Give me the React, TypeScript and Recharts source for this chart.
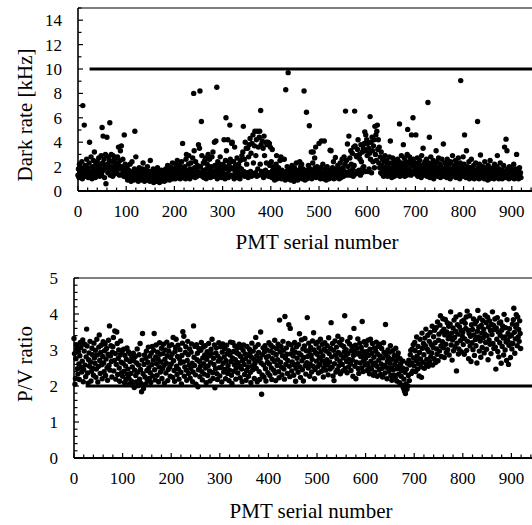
import React from 'react';
import { ScatterChart, Scatter, XAxis, YAxis, ReferenceLine } from 'recharts';

// ---- Dark rate [kHz], PMT serial 0..919 (blocks of 100) ----
const dark0 = [
  1.3, 1.8, 1.1, 2.2, 1.5, 1.2, 1.9, 1.4, 2.4, 1.0, 7.0, 1.6, 1.3, 5.4, 1.8, 2.1, 1.2, 1.5, 2.6, 1.4,
  1.9, 1.1, 1.7, 2.3, 4.0, 1.5, 1.2, 2.8, 1.6, 1.0, 2.0, 1.4, 2.5, 1.3, 3.2, 1.8, 1.1, 2.2, 1.7, 1.5,
  2.4, 1.3, 1.9, 2.7, 1.6, 1.2, 2.1, 1.8, 2.9, 1.4, 5.2, 2.3, 4.5, 1.7, 2.6, 1.1, 2.0, 3.0, 0.6, 1.9,
  4.4, 2.2, 1.5, 2.8, 1.8, 2.5, 5.6, 1.3, 2.0, 3.0, 1.7, 2.4, 1.2, 2.9, 1.9, 2.6, 1.4, 2.2, 2.7, 1.6,
  2.3, 1.5, 2.8, 1.9, 3.6, 2.1, 1.3, 2.5, 3.3, 1.8, 3.7, 2.0, 1.4, 2.6, 1.7, 1.2, 4.6, 1.9, 2.2, 1.5,
];
const dark1 = [
  1.6, 1.1, 2.0, 0.9, 1.4, 1.7, 1.0, 1.3, 2.2, 1.5, 0.8, 1.2, 2.4, 1.0, 1.6, 1.3, 0.9, 1.8, 4.9, 1.1,
  2.8, 1.4, 1.0, 1.7, 1.2, 0.8, 1.5, 1.9, 1.1, 1.3, 0.9, 1.6, 1.2, 1.0, 1.8, 2.3, 1.1, 1.4, 0.8, 1.5,
  1.2, 1.7, 0.9, 1.3, 2.0, 1.0, 1.4, 1.1, 1.6, 0.8, 2.5, 1.2, 0.9, 1.5, 1.3, 1.0, 1.8, 0.7, 1.2, 1.4,
  1.0, 1.6, 0.8, 1.3, 1.1, 1.9, 0.9, 1.2, 1.5, 0.7, 1.0, 1.4, 0.8, 1.7, 1.1, 0.9, 1.3, 1.0, 1.6, 0.8,
  1.4, 1.1, 1.8, 0.9, 1.5, 1.2, 2.1, 1.0, 1.3, 1.7, 0.9, 1.6, 1.2, 1.9, 1.1, 1.4, 2.3, 1.0, 1.5, 1.8,
];
const dark2 = [
  1.3, 1.8, 1.0, 2.2, 1.5, 1.1, 2.5, 1.4, 1.9, 1.2, 1.6, 2.1, 1.0, 1.7, 1.3, 2.4, 1.1, 3.9, 1.5, 1.8,
  1.2, 2.0, 1.4, 1.0, 2.6, 3.0, 1.3, 1.7, 1.1, 2.2, 2.9, 1.5, 1.0, 1.8, 2.3, 1.3, 1.6, 1.2, 2.7, 1.4,
  8.0, 3.3, 1.9, 1.1, 2.4, 1.5, 1.8, 1.2, 2.1, 1.6, 3.8, 1.3, 3.5, 8.2, 2.0, 1.4, 5.7, 2.9, 1.2, 1.7,
  2.3, 1.1, 1.6, 2.5, 1.3, 2.7, 1.0, 1.8, 2.2, 1.4, 3.0, 1.2, 1.9, 2.6, 1.5, 1.1, 2.0, 1.7, 2.8, 1.3,
  3.2, 1.6, 1.2, 4.0, 2.1, 1.4, 4.1, 1.8, 8.5, 1.0, 2.4, 1.5, 1.9, 1.2, 2.2, 2.8, 1.3, 1.7, 1.1, 2.0,
];
const dark3 = [
  1.5, 2.2, 1.2, 4.2, 1.8, 1.0, 2.5, 6.0, 3.3, 1.4, 2.0, 4.2, 1.1, 1.7, 2.3, 5.4, 2.6, 1.3, 1.9, 3.9,
  4.0, 1.2, 1.8, 2.4, 1.0, 3.6, 1.5, 2.1, 1.3, 1.7, 2.7, 1.1, 1.6, 2.2, 1.4, 1.9, 1.0, 2.5, 1.3, 1.8,
  2.9, 1.4, 3.2, 5.3, 1.6, 2.6, 1.2, 4.0, 1.3, 3.5, 2.2, 1.5, 3.5, 1.1, 2.8, 3.8, 1.4, 4.3, 1.6, 3.1,
  1.2, 3.9, 1.4, 4.6, 2.3, 1.3, 3.7, 4.9, 1.5, 2.9, 4.2, 1.2, 4.9, 1.8, 3.6, 1.3, 4.4, 4.9, 2.2, 6.6,
  3.8, 1.6, 4.1, 1.3, 3.5, 1.1, 4.5, 2.9, 1.4, 1.7, 4.0, 2.3, 3.8, 1.4, 4.0, 1.2, 1.5, 3.9, 2.1, 3.6,
];
const dark4 = [
  1.5, 2.4, 1.1, 3.4, 1.7, 1.2, 2.0, 1.4, 0.9, 1.8, 1.3, 2.2, 2.9, 1.0, 1.6, 1.2, 1.9, 1.4, 1.1, 2.5,
  1.3, 2.8, 1.0, 1.7, 2.6, 1.2, 1.5, 1.1, 2.6, 1.4, 0.9, 8.3, 1.6, 1.2, 2.0, 1.0, 9.7, 1.3, 1.8, 1.1,
  1.4, 0.9, 1.7, 1.2, 2.1, 1.0, 1.5, 1.3, 0.8, 1.9, 1.1, 1.6, 1.2, 2.3, 1.0, 1.4, 0.9, 1.7, 1.3, 1.1,
  2.4, 1.2, 2.0, 1.5, 2.2, 1.0, 1.3, 1.8, 1.1, 8.2, 1.4, 0.9, 1.6, 1.2, 6.45, 1.0, 1.7, 1.3, 2.1, 1.5,
  5.35, 1.1, 1.8, 1.3, 3.2, 1.0, 1.6, 2.3, 3.2, 1.2, 1.5, 2.7, 1.9, 3.6, 1.1, 1.4, 2.0, 1.2, 1.7, 1.3,
];
const dark5 = [
  3.9, 1.2, 1.6, 1.0, 1.9, 4.1, 1.3, 1.1, 2.2, 1.5, 1.0, 4.1, 1.4, 1.8, 1.2, 0.9, 1.6, 2.0, 1.1, 1.3,
  1.7, 1.0, 1.4, 3.35, 1.2, 3.3, 1.5, 1.1, 1.9, 1.3, 2.4, 1.0, 1.6, 1.2, 2.75, 1.4, 1.1, 1.8, 1.3, 2.1,
  1.2, 1.5, 1.0, 1.8, 2.3, 1.3, 1.1, 1.7, 2.6, 1.4, 1.9, 1.2, 2.8, 1.6, 2.2, 6.55, 1.5, 2.5, 1.3, 3.85,
  2.0, 1.4, 4.5, 1.6, 2.7, 1.3, 3.3, 2.2, 1.5, 3.1, 1.8, 1.2, 3.6, 2.1, 6.55, 3.7, 1.4, 2.9, 2.8, 1.6,
  3.4, 4.2, 1.5, 1.7, 3.0, 2.6, 1.3, 3.8, 2.4, 1.5, 3.2, 1.9, 3.5, 2.0, 3.9, 4.85, 1.6, 4.6, 3.3, 4.2,
];
const dark6 = [
  2.9, 3.9, 1.6, 3.5, 1.8, 3.1, 6.1, 2.6, 4.0, 1.5, 4.4, 3.3, 2.4, 3.7, 4.2, 1.9, 5.3, 3.0, 4.6, 2.5,
  4.9, 5.4, 3.4, 4.2, 2.3, 3.6, 1.9, 2.8, 1.5, 3.2, 2.1, 1.4, 2.6, 1.8, 1.2, 2.4, 1.6, 2.9, 1.3, 2.0,
  1.7, 2.5, 1.2, 2.2, 1.5, 1.9, 2.8, 1.3, 4.1, 1.8, 2.3, 1.1, 1.6, 2.7, 1.4, 2.0, 1.2, 2.5, 1.7, 1.5,
  2.2, 1.3, 1.9, 2.6, 1.4, 1.8, 2.4, 5.5, 1.2, 2.1, 1.6, 2.9, 1.3, 1.9, 2.3, 3.8, 1.5, 2.7, 1.2, 2.0,
  1.6, 2.4, 1.3, 3.0, 5.05, 1.8, 2.2, 1.4, 2.8, 1.7, 2.5, 1.3, 4.6, 2.1, 1.6, 6.0, 2.6, 1.5, 2.3, 1.9,
];
const dark7 = [
  1.4, 4.6, 2.0, 1.6, 2.7, 1.2, 2.3, 1.8, 1.3, 2.5, 1.7, 2.1, 1.1, 2.9, 1.5, 1.9, 3.5, 1.3, 2.2, 1.6,
  2.4, 1.4, 1.8, 2.6, 1.2, 2.0, 7.25, 1.5, 2.3, 4.4, 1.1, 1.7, 2.8, 1.3, 1.9, 2.2, 1.4, 2.5, 1.0, 1.6,
  2.1, 1.3, 1.8, 3.3, 1.5, 2.4, 1.2, 1.9, 2.7, 1.4, 1.7, 2.2, 1.1, 2.0, 1.6, 2.6, 1.3, 1.8, 3.85, 1.5,
  1.2, 2.3, 1.7, 1.4, 2.0, 1.1, 2.6, 1.5, 1.9, 1.3, 2.2, 1.6, 1.0, 2.4, 1.4, 1.8, 1.2, 2.9, 1.5, 1.7,
  2.1, 1.3, 1.6, 2.5, 1.1, 1.9, 1.4, 2.2, 1.2, 2.7, 1.5, 1.8, 1.0, 2.3, 9.05, 1.4, 2.0, 1.6, 1.2, 2.8,
];
const dark8 = [
  1.5, 2.2, 4.6, 1.3, 1.8, 1.1, 3.3, 1.6, 2.0, 1.2, 1.7, 2.4, 1.0, 1.4, 1.9, 1.2, 2.6, 1.5, 1.1, 1.8,
  1.3, 2.1, 1.0, 1.6, 1.4, 2.3, 1.1, 1.7, 1.2, 5.7, 1.5, 1.9, 1.0, 2.2, 1.3, 2.95, 1.6, 1.1, 1.8, 1.4,
  2.0, 1.2, 1.5, 1.0, 2.4, 1.3, 1.7, 1.1, 1.9, 1.4, 0.9, 2.1, 1.2, 1.6, 1.0, 2.5, 1.3, 1.8, 1.1, 1.5,
  1.2, 1.9, 1.4, 1.0, 2.2, 1.6, 1.1, 1.7, 1.3, 2.0, 2.9, 1.2, 1.5, 1.0, 1.8, 1.3, 2.3, 1.1, 1.6, 1.4,
  1.0, 1.7, 1.3, 2.1, 1.2, 3.6, 1.5, 1.1, 4.25, 1.4, 3.3, 1.8, 1.2, 1.6, 1.0, 2.0, 1.3, 1.5, 1.1, 1.9,
];
const dark9 = [
  1.4, 1.1, 1.7, 1.2, 2.2, 1.0, 1.5, 1.3, 1.8, 1.1, 3.0, 1.4, 1.2, 1.6, 1.0, 1.3, 1.9, 1.2, 1.5, 1.1,
];

// ---- P/V ratio, PMT serial 0..919 (blocks of 100) ----
const pv0 = [
  3.32, 2.9, 2.05, 2.21, 2.76, 3.14, 3.02, 2.48, 2.33, 2.95, 2.61, 2.18, 2.84, 3.21, 3.07, 2.52, 2.39, 2.69, 3.28, 2.12,
  2.45, 2.97, 3.16, 2.58, 2.26, 2.81, 3.58, 3.11, 2.36, 2.08, 2.73, 2.92, 2.55, 3.24, 2.67, 2.14, 2.41, 3.05, 2.87, 2.49,
  2.3, 3.19, 2.78, 2.63, 2.99, 2.24, 2.47, 3.3, 2.86, 2.11, 2.54, 3.08, 3.42, 2.71, 2.35, 2.93, 3.13, 2.59, 2.2, 2.82,
  3.23, 2.64, 2.4, 2.98, 3.17, 2.29, 2.75, 3.04, 2.51, 2.16, 2.88, 3.27, 2.57, 3.67, 2.44, 2.83, 3.12, 2.68, 2.25, 2.94,
  3.09, 3.35, 2.42, 2.71, 3.53, 2.9, 2.19, 2.6, 3.5, 3.18, 2.32, 2.77, 3.0, 2.5, 2.13, 2.86, 3.25, 2.66, 2.37, 2.96,
];
const pv1 = [
  2.27, 2.63, 3.02, 2.41, 2.09, 2.85, 2.56, 2.18, 2.74, 3.06, 2.32, 2.47, 2.95, 2.22, 2.06, 2.68, 2.89, 2.35, 2.14, 2.79,
  2.53, 2.03, 2.91, 2.7, 1.96, 2.44, 2.82, 2.29, 2.11, 2.64, 3.03, 2.38, 2.01, 2.58, 2.87, 2.19, 3.18, 2.46, 2.07, 1.84,
  2.72, 3.46, 2.34, 1.93, 2.6, 2.86, 2.25, 2.05, 2.77, 2.97, 2.43, 2.16, 2.66, 3.08, 2.51, 2.21, 2.83, 2.37, 2.1, 2.92,
  2.59, 3.1, 2.28, 2.72, 2.99, 3.46, 2.45, 2.17, 2.81, 3.14, 2.62, 2.3, 2.94, 2.75, 2.12, 2.53, 3.2, 2.88, 2.39, 2.67,
  3.05, 2.21, 2.48, 2.9, 3.16, 2.57, 2.08, 2.74, 3.0, 2.36, 2.63, 3.22, 2.84, 2.15, 2.46, 2.97, 3.11, 2.52, 2.27, 2.79,
];
const pv2 = [
  2.61, 3.15, 2.89, 2.24, 3.35, 2.7, 2.43, 2.13, 2.96, 3.07, 3.3, 2.55, 2.32, 2.82, 3.13, 2.47, 2.19, 2.76, 3.01, 2.64,
  2.38, 2.06, 2.85, 3.19, 3.51, 2.67, 3.38, 2.27, 2.53, 2.93, 3.09, 2.44, 2.16, 2.71, 3.24, 2.87, 2.35, 2.58, 3.03, 2.22,
  2.49, 2.94, 3.17, 2.63, 2.12, 2.39, 3.67, 2.8, 2.57, 3.1, 2.31, 2.05, 3.15, 2.73, 2.91, 1.98, 2.45, 3.04, 2.68, 2.26,
  2.54, 2.99, 3.21, 2.4, 2.17, 2.78, 3.08, 2.62, 2.33, 2.86, 3.12, 2.5, 2.09, 2.74, 2.95, 2.29, 2.56, 3.18, 2.84, 2.42,
  2.14, 2.65, 3.02, 2.9, 3.3, 2.37, 2.21, 2.77, 2.6, 3.14, 1.95, 2.48, 2.92, 3.06, 2.34, 2.18, 2.83, 2.69, 3.2, 2.51,
];
const pv3 = [
  2.28, 2.75, 3.09, 2.52, 2.11, 2.94, 3.17, 2.63, 2.39, 2.81, 3.04, 2.46, 2.2, 2.7, 3.13, 2.9, 2.35, 2.57, 2.98, 2.15,
  2.44, 2.86, 3.22, 2.68, 2.3, 2.07, 2.78, 3.2, 2.96, 2.41, 2.59, 3.11, 2.73, 2.19, 2.5, 2.92, 3.05, 2.36, 2.65, 2.88,
  3.16, 2.55, 2.23, 2.82, 3.07, 2.47, 2.12, 2.71, 2.99, 3.14, 2.6, 2.32, 2.89, 2.76, 2.16, 2.43, 3.1, 2.85, 2.53, 2.27,
  2.67, 3.02, 2.91, 2.38, 2.09, 2.8, 3.19, 2.56, 2.45, 2.97, 2.74, 2.21, 2.62, 3.08, 3.35, 2.49, 2.84, 2.12, 2.7, 3.15,
  2.93, 2.4, 2.18, 2.77, 3.5, 2.64, 1.77, 2.31, 2.87, 3.06, 2.58, 2.25, 2.95, 3.12, 2.48, 2.14, 2.79, 3.0, 2.66, 2.37,
];
const pv4 = [
  2.83, 3.2, 2.61, 2.29, 2.97, 3.13, 2.5, 2.18, 2.76, 3.08, 2.92, 2.44, 2.68, 3.27, 2.36, 2.15, 2.87, 3.04, 2.57, 2.73,
  3.16, 2.4, 2.23, 3.83, 2.95, 2.66, 3.1, 2.52, 2.31, 2.84, 3.24, 2.99, 2.47, 2.19, 3.93, 2.78, 2.6, 3.06, 2.88, 2.35,
  2.71, 3.18, 3.7, 2.55, 2.26, 3.6, 2.89, 3.14, 2.42, 2.67, 3.01, 2.83, 2.3, 2.58, 3.21, 2.94, 2.13, 2.49, 3.09, 2.77,
  2.62, 2.38, 3.15, 2.91, 3.45, 2.53, 2.24, 2.86, 3.28, 2.7, 2.45, 3.03, 2.14, 2.79, 3.11, 3.32, 2.57, 2.33, 2.98, 2.65,
  3.9, 2.82, 2.5, 3.19, 2.96, 2.27, 2.61, 3.07, 2.85, 2.39, 2.74, 3.25, 2.55, 3.48, 3.0, 2.2, 2.46, 2.93, 3.17, 2.69,
];
const pv5 = [
  2.88, 3.22, 2.54, 2.36, 3.06, 2.79, 2.6, 3.3, 2.95, 2.41, 2.7, 3.16, 2.84, 2.25, 2.51, 3.02, 3.2, 2.63, 2.44, 2.97,
  2.73, 3.12, 2.58, 2.31, 3.34, 2.9, 2.67, 2.47, 3.04, 3.76, 2.81, 2.52, 3.18, 2.28, 2.99, 2.15, 2.62, 3.25, 2.86, 2.39,
  3.08, 2.76, 2.45, 3.38, 2.93, 2.56, 3.21, 2.69, 2.34, 2.87, 3.14, 3.29, 2.6, 2.42, 2.78, 3.1, 2.95, 3.95, 2.49, 2.83,
  3.01, 2.68, 2.37, 3.24, 2.9, 2.53, 2.74, 3.17, 3.35, 2.61, 2.43, 2.98, 3.09, 2.72, 2.27, 2.85, 3.6, 2.96, 2.55, 3.13,
  2.2, 2.66, 3.05, 2.89, 3.31, 2.48, 2.35, 2.92, 3.19, 2.64, 2.82, 3.07, 2.5, 3.79, 2.97, 2.4, 2.71, 3.23, 2.86, 2.58,
];
const pv6 = [
  2.77, 3.14, 2.95, 2.43, 2.62, 3.27, 2.85, 2.51, 2.34, 3.02, 3.3, 2.69, 2.47, 2.91, 3.18, 2.58, 2.3, 2.8, 3.06, 2.38,
  2.64, 2.97, 3.22, 2.55, 2.27, 2.88, 3.1, 2.72, 2.45, 3.16, 2.83, 2.32, 2.61, 3.04, 2.49, 2.25, 2.78, 3.2, 2.93, 2.57,
  2.36, 3.71, 2.86, 2.52, 2.2, 2.68, 3.0, 2.79, 2.41, 2.94, 2.63, 3.12, 2.29, 2.5, 2.16, 2.74, 2.98, 2.45, 2.31, 2.85,
  2.6, 2.24, 3.05, 2.7, 2.14, 2.48, 2.82, 2.92, 2.33, 2.55, 2.09, 2.76, 2.62, 2.27, 2.43, 2.02, 2.5, 2.69, 1.94, 2.19,
  1.86, 2.38, 1.79, 2.06, 2.47, 1.91, 2.63, 2.0, 2.29, 2.72, 2.15, 2.58, 2.87, 2.99, 2.35, 2.64, 3.03, 2.42, 3.15, 2.78,
];
const pv7 = [
  2.56, 3.21, 2.98, 2.4, 2.71, 3.36, 2.83, 2.47, 3.1, 2.62, 2.28, 2.93, 3.3, 2.75, 2.53, 2.24, 3.47, 3.05, 2.66, 3.18,
  2.87, 2.49, 3.33, 3.12, 3.58, 2.6, 2.74, 3.02, 3.41, 2.55, 2.95, 3.24, 2.68, 3.49, 2.81, 3.15, 2.92, 3.66, 2.58, 3.07,
  3.37, 2.76, 3.55, 3.2, 2.65, 3.62, 3.03, 2.88, 3.78, 2.7, 3.27, 3.44, 2.97, 3.69, 3.95, 3.11, 2.82, 3.51, 3.23, 3.87,
  3.06, 3.58, 2.79, 3.42, 3.85, 3.16, 2.93, 3.5, 3.76, 3.01, 3.31, 3.66, 2.86, 3.39, 3.72, 4.06, 3.14, 3.47, 2.72, 3.28,
  3.61, 2.98, 3.83, 3.35, 3.09, 3.52, 3.92, 2.42, 3.19, 3.7, 3.44, 2.89, 3.03, 3.65, 3.98, 3.26, 3.56, 2.95, 3.79, 3.38,
];
const pv8 = [
  3.49, 3.15, 3.83, 2.88, 3.31, 3.74, 3.6, 3.92, 2.99, 4.08, 3.24, 3.55, 2.76, 3.46, 3.95, 3.11, 3.38, 2.68, 3.7, 3.2,
  3.57, 3.01, 3.86, 3.42, 2.85, 3.73, 3.29, 3.12, 3.8, 2.64, 3.52, 4.1, 3.36, 3.63, 2.97, 3.89, 3.25, 2.8, 3.68, 3.47,
  3.07, 3.82, 3.34, 3.58, 2.92, 3.45, 3.97, 3.21, 3.76, 3.02, 3.4, 3.91, 2.73, 3.64, 3.28, 3.81, 3.16, 3.54, 2.9, 3.71,
  3.43, 4.06, 3.18, 3.69, 3.04, 3.57, 3.86, 3.08, 2.47, 3.61, 3.3, 3.9, 2.96, 3.5, 2.81, 3.75, 3.2, 3.41, 3.78, 2.63,
  3.55, 3.1, 3.67, 3.33, 2.86, 3.99, 3.36, 3.0, 3.62, 3.22, 2.71, 3.84, 3.27, 3.46, 2.6, 3.13, 3.59, 3.38, 2.79, 3.19,
];
const pv9 = [
  3.41, 3.03, 3.72, 3.18, 3.84, 4.16, 3.49, 2.91, 3.31, 3.63, 3.98, 3.7, 3.12, 3.92, 3.36, 3.57, 3.24, 3.81, 3.46, 3.04,
];

// ---- axes / ticks / thresholds ----
const xMax = 1000;
const xLabelTicks = [0, 100, 200, 300, 400, 500, 600, 700, 800, 900];
const xMajorTicks = [0, 100, 200, 300, 400, 500, 600, 700, 800, 900, 1000];
const xMinorTicks = [
  0, 20, 40, 60, 80, 100, 120, 140, 160, 180, 200, 220, 240, 260, 280, 300, 320, 340, 360, 380,
  400, 420, 440, 460, 480, 500, 520, 540, 560, 580, 600, 620, 640, 660, 680, 700, 720, 740, 760, 780,
  800, 820, 840, 860, 880, 900, 920, 940, 960, 980, 1000,
];
const darkMax = 15;
const darkMajorTicks = [0, 2, 4, 6, 8, 10, 12, 14];
const darkMinorTicks = [0, 1, 2, 3, 4, 5, 6, 7, 8, 9, 10, 11, 12, 13, 14, 15];
const pvMax = 5;
const pvMajorTicks = [0, 1, 2, 3, 4, 5];
const pvMinorTicks = [
  0, 0.2, 0.4, 0.6, 0.8, 1, 1.2, 1.4, 1.6, 1.8, 2, 2.2, 2.4, 2.6, 2.8, 3, 3.2, 3.4, 3.6, 3.8,
  4, 4.2, 4.4, 4.6, 4.8, 5,
];
const darkLimit = 10;
const pvLimit = 2;
const limitStart = 24;

const darkRate = [...dark0, ...dark1, ...dark2, ...dark3, ...dark4, ...dark5, ...dark6, ...dark7, ...dark8, ...dark9];
const pvRatio = [...pv0, ...pv1, ...pv2, ...pv3, ...pv4, ...pv5, ...pv6, ...pv7, ...pv8, ...pv9];
const darkData = darkRate.map((v, i) => ({ serial: i, value: v }));
const pvData = pvRatio.map((v, i) => ({ serial: i, value: v }));

const FONT = "'Liberation Serif', 'Times New Roman', Times, serif";

const makeXTick = (majors: number[], labels: number[]) => (props: any) => {
  const { x, y, payload } = props;
  const v = payload.value;
  const major = majors.includes(v);
  const labelled = labels.includes(v);
  return (
    <g>
      <line x1={x} y1={y} x2={x} y2={y - (major ? 5 : 3.5)} stroke="#000" strokeWidth={1.2} />
      {labelled && (
        <text x={x} y={y + 20} dy="0.35em" textAnchor="middle" fontFamily={FONT} fontSize={17} fill="#000">
          {v}
        </text>
      )}
    </g>
  );
};

const makeYTick = (majors: number[]) => (props: any) => {
  const { x, y, payload } = props;
  const v = payload.value;
  const major = majors.includes(v);
  return (
    <g>
      <line x1={x} y1={y} x2={x + (major ? 5 : 3.5)} y2={y} stroke="#000" strokeWidth={1.2} />
      {major && (
        <text x={x - 16} y={y} dy="0.35em" textAnchor="end" fontFamily={FONT} fontSize={17} fill="#000">
          {v}
        </text>
      )}
    </g>
  );
};

const dot = (p: any) => <circle cx={p.cx} cy={p.cy} r={2.7} fill="#000" />;

const xTitle = (x: number, y: number) => () => (
  <text x={x} y={y} textAnchor="middle" fontFamily={FONT} fontSize={21} fill="#000">
    PMT serial number
  </text>
);
const yTitle = (text: string, x: number, y: number) => () => (
  <text x={x} y={y} transform={`rotate(-90, ${x}, ${y})`} textAnchor="middle" fontFamily={FONT} fontSize={21} fill="#000">
    {text}
  </text>
);

export default function App() {
  return (
    <div style={{ position: 'absolute', left: 0, top: 0, width: 532, height: 525, overflow: 'hidden', background: '#fff' }}>
      <div style={{ position: 'absolute', left: 0, top: 0 }}>
        <ScatterChart width={570} height={262} margin={{ top: 8, right: 10, bottom: 0, left: 0 }}>
          <XAxis
            dataKey="serial"
            type="number"
            domain={[0, xMax]}
            ticks={xMinorTicks}
            interval={0}
            tickSize={0}
            tickMargin={0}
            height={71}
            axisLine={{ stroke: '#000', strokeWidth: 2 }}
            tickLine={false}
            tick={makeXTick(xMajorTicks, xLabelTicks)}
            label={xTitle(317, 249)}
          />
          <YAxis
            dataKey="value"
            type="number"
            domain={[0, darkMax]}
            ticks={darkMinorTicks}
            interval={0}
            tickSize={0}
            tickMargin={0}
            width={78}
            axisLine={{ stroke: '#000', strokeWidth: 1.6 }}
            tickLine={false}
            tick={makeYTick(darkMajorTicks)}
            label={yTitle('Dark rate [kHz]', 32, 115)}
          />
          <ReferenceLine y={darkMax} stroke="#000" strokeWidth={1.2} />
          <Scatter data={darkData} shape={dot} isAnimationActive={false} />
          <ReferenceLine
            segment={[{ x: limitStart, y: darkLimit }, { x: xMax, y: darkLimit }]}
            stroke="#000"
            strokeWidth={3}
          />
        </ScatterChart>
      </div>
      <div style={{ position: 'absolute', left: 0, top: 262 }}>
        <ScatterChart width={570} height={263} margin={{ top: 16, right: 10, bottom: 0, left: 0 }}>
          <XAxis
            dataKey="serial"
            type="number"
            domain={[0, xMax]}
            ticks={xMinorTicks}
            interval={0}
            tickSize={0}
            tickMargin={0}
            height={67}
            axisLine={{ stroke: '#000', strokeWidth: 2 }}
            tickLine={false}
            tick={makeXTick(xMajorTicks, xLabelTicks)}
            label={xTitle(311, 256)}
          />
          <YAxis
            dataKey="value"
            type="number"
            domain={[0, pvMax]}
            ticks={pvMinorTicks}
            interval={0}
            tickSize={0}
            tickMargin={0}
            width={74}
            axisLine={{ stroke: '#000', strokeWidth: 1.6 }}
            tickLine={false}
            tick={makeYTick(pvMajorTicks)}
            label={yTitle('P/V ratio', 32, 102)}
          />
          <ReferenceLine y={pvMax} stroke="#000" strokeWidth={1.2} />
          <Scatter data={pvData} shape={dot} isAnimationActive={false} />
          <ReferenceLine
            segment={[{ x: limitStart, y: pvLimit }, { x: xMax, y: pvLimit }]}
            stroke="#000"
            strokeWidth={3}
          />
        </ScatterChart>
      </div>
    </div>
  );
}
